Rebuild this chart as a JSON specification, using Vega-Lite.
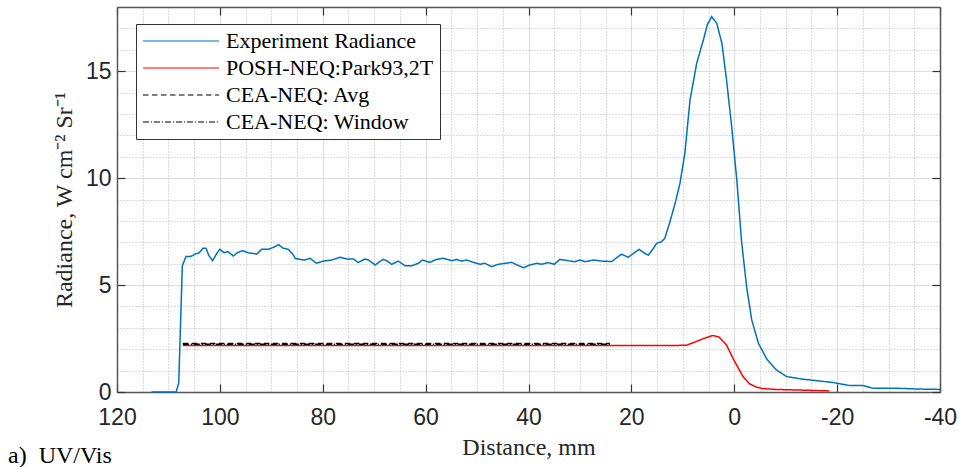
{
  "$schema": "https://vega.github.io/schema/vega-lite/v6.json",
  "width": 823,
  "height": 385,
  "autosize": {"type": "none"},
  "padding": {"left": 117, "top": 7, "right": 22, "bottom": 75},
  "background": "white",
  "title": {
    "text": "a)\u00a0 UV/Vis",
    "orient": "bottom",
    "anchor": "start",
    "frame": "group",
    "font": "Liberation Serif",
    "fontSize": 24,
    "fontWeight": "normal",
    "color": "#000000",
    "dx": -109,
    "offset": -15
  },
  "config": {
    "view": {"stroke": null},
    "legend": {
      "orient": "none",
      "legendX": 19,
      "legendY": 17,
      "symbolType": "stroke",
      "symbolSize": 5776,
      "symbolStrokeWidth": 1.2,
      "clipHeight": 22,
      "rowPadding": 5,
      "padding": 6,
      "labelOffset": 6,
      "labelFont": "Liberation Serif",
      "labelFontSize": 22,
      "labelColor": "#000000",
      "labelLimit": 400,
      "fillColor": "#ffffff",
      "strokeColor": "#333333",
      "strokeWidth": 1
    }
  },
  "data": {
    "values": [
      {"d": 113.3, "r": 0, "s": "Experiment Radiance"},
      {"d": 108.5, "r": 0, "s": "Experiment Radiance"},
      {"d": 108.0, "r": 0.42, "s": "Experiment Radiance"},
      {"d": 107.3, "r": 5.9, "s": "Experiment Radiance"},
      {"d": 106.6, "r": 6.33, "s": "Experiment Radiance"},
      {"d": 105.7, "r": 6.33, "s": "Experiment Radiance"},
      {"d": 104.8, "r": 6.45, "s": "Experiment Radiance"},
      {"d": 104.0, "r": 6.51, "s": "Experiment Radiance"},
      {"d": 103.3, "r": 6.72, "s": "Experiment Radiance"},
      {"d": 102.7, "r": 6.72, "s": "Experiment Radiance"},
      {"d": 102.1, "r": 6.36, "s": "Experiment Radiance"},
      {"d": 101.4, "r": 6.14, "s": "Experiment Radiance"},
      {"d": 100.6, "r": 6.48, "s": "Experiment Radiance"},
      {"d": 100.0, "r": 6.67, "s": "Experiment Radiance"},
      {"d": 99.2, "r": 6.51, "s": "Experiment Radiance"},
      {"d": 98.4, "r": 6.56, "s": "Experiment Radiance"},
      {"d": 97.4, "r": 6.36, "s": "Experiment Radiance"},
      {"d": 96.6, "r": 6.51, "s": "Experiment Radiance"},
      {"d": 95.6, "r": 6.61, "s": "Experiment Radiance"},
      {"d": 94.5, "r": 6.51, "s": "Experiment Radiance"},
      {"d": 92.8, "r": 6.45, "s": "Experiment Radiance"},
      {"d": 91.9, "r": 6.67, "s": "Experiment Radiance"},
      {"d": 90.6, "r": 6.67, "s": "Experiment Radiance"},
      {"d": 89.6, "r": 6.76, "s": "Experiment Radiance"},
      {"d": 88.6, "r": 6.89, "s": "Experiment Radiance"},
      {"d": 87.7, "r": 6.72, "s": "Experiment Radiance"},
      {"d": 86.7, "r": 6.67, "s": "Experiment Radiance"},
      {"d": 85.7, "r": 6.4, "s": "Experiment Radiance"},
      {"d": 85.4, "r": 6.25, "s": "Experiment Radiance"},
      {"d": 84.4, "r": 6.2, "s": "Experiment Radiance"},
      {"d": 83.5, "r": 6.17, "s": "Experiment Radiance"},
      {"d": 82.5, "r": 6.25, "s": "Experiment Radiance"},
      {"d": 81.2, "r": 6.02, "s": "Experiment Radiance"},
      {"d": 79.9, "r": 6.12, "s": "Experiment Radiance"},
      {"d": 78.3, "r": 6.17, "s": "Experiment Radiance"},
      {"d": 76.6, "r": 6.3, "s": "Experiment Radiance"},
      {"d": 75.3, "r": 6.22, "s": "Experiment Radiance"},
      {"d": 74.0, "r": 6.22, "s": "Experiment Radiance"},
      {"d": 73.1, "r": 6.05, "s": "Experiment Radiance"},
      {"d": 71.8, "r": 6.22, "s": "Experiment Radiance"},
      {"d": 71.1, "r": 6.17, "s": "Experiment Radiance"},
      {"d": 69.8, "r": 5.94, "s": "Experiment Radiance"},
      {"d": 68.3, "r": 6.2, "s": "Experiment Radiance"},
      {"d": 67.6, "r": 6.14, "s": "Experiment Radiance"},
      {"d": 66.6, "r": 5.97, "s": "Experiment Radiance"},
      {"d": 65.3, "r": 6.12, "s": "Experiment Radiance"},
      {"d": 64.0, "r": 5.9, "s": "Experiment Radiance"},
      {"d": 62.7, "r": 5.9, "s": "Experiment Radiance"},
      {"d": 61.4, "r": 6.02, "s": "Experiment Radiance"},
      {"d": 60.6, "r": 6.17, "s": "Experiment Radiance"},
      {"d": 59.2, "r": 6.06, "s": "Experiment Radiance"},
      {"d": 57.9, "r": 6.2, "s": "Experiment Radiance"},
      {"d": 56.6, "r": 6.25, "s": "Experiment Radiance"},
      {"d": 54.9, "r": 6.14, "s": "Experiment Radiance"},
      {"d": 54.0, "r": 6.2, "s": "Experiment Radiance"},
      {"d": 53.0, "r": 6.12, "s": "Experiment Radiance"},
      {"d": 52.0, "r": 6.17, "s": "Experiment Radiance"},
      {"d": 50.7, "r": 6.06, "s": "Experiment Radiance"},
      {"d": 49.4, "r": 5.97, "s": "Experiment Radiance"},
      {"d": 48.5, "r": 6.02, "s": "Experiment Radiance"},
      {"d": 47.2, "r": 5.86, "s": "Experiment Radiance"},
      {"d": 45.9, "r": 5.97, "s": "Experiment Radiance"},
      {"d": 43.3, "r": 6.06, "s": "Experiment Radiance"},
      {"d": 41.0, "r": 5.81, "s": "Experiment Radiance"},
      {"d": 39.7, "r": 5.94, "s": "Experiment Radiance"},
      {"d": 38.4, "r": 6.02, "s": "Experiment Radiance"},
      {"d": 37.4, "r": 5.97, "s": "Experiment Radiance"},
      {"d": 36.1, "r": 6.05, "s": "Experiment Radiance"},
      {"d": 35.0, "r": 5.97, "s": "Experiment Radiance"},
      {"d": 33.9, "r": 6.2, "s": "Experiment Radiance"},
      {"d": 32.3, "r": 6.14, "s": "Experiment Radiance"},
      {"d": 31.0, "r": 6.09, "s": "Experiment Radiance"},
      {"d": 30.0, "r": 6.17, "s": "Experiment Radiance"},
      {"d": 29.0, "r": 6.09, "s": "Experiment Radiance"},
      {"d": 27.4, "r": 6.17, "s": "Experiment Radiance"},
      {"d": 25.8, "r": 6.12, "s": "Experiment Radiance"},
      {"d": 23.8, "r": 6.1, "s": "Experiment Radiance"},
      {"d": 22.2, "r": 6.4, "s": "Experiment Radiance"},
      {"d": 21.9, "r": 6.44, "s": "Experiment Radiance"},
      {"d": 20.6, "r": 6.3, "s": "Experiment Radiance"},
      {"d": 19.6, "r": 6.48, "s": "Experiment Radiance"},
      {"d": 18.5, "r": 6.67, "s": "Experiment Radiance"},
      {"d": 17.4, "r": 6.48, "s": "Experiment Radiance"},
      {"d": 16.7, "r": 6.4, "s": "Experiment Radiance"},
      {"d": 15.7, "r": 6.72, "s": "Experiment Radiance"},
      {"d": 15.1, "r": 6.95, "s": "Experiment Radiance"},
      {"d": 14.1, "r": 7.03, "s": "Experiment Radiance"},
      {"d": 13.5, "r": 7.19, "s": "Experiment Radiance"},
      {"d": 12.5, "r": 7.96, "s": "Experiment Radiance"},
      {"d": 11.5, "r": 8.82, "s": "Experiment Radiance"},
      {"d": 10.55, "r": 9.76, "s": "Experiment Radiance"},
      {"d": 9.6, "r": 11.16, "s": "Experiment Radiance"},
      {"d": 8.6, "r": 13.65, "s": "Experiment Radiance"},
      {"d": 7.3, "r": 15.37, "s": "Experiment Radiance"},
      {"d": 6.0, "r": 16.46, "s": "Experiment Radiance"},
      {"d": 5.25, "r": 17.16, "s": "Experiment Radiance"},
      {"d": 4.4, "r": 17.55, "s": "Experiment Radiance"},
      {"d": 3.4, "r": 17.24, "s": "Experiment Radiance"},
      {"d": 2.4, "r": 16.3, "s": "Experiment Radiance"},
      {"d": 1.5, "r": 14.59, "s": "Experiment Radiance"},
      {"d": 0.5, "r": 12.4, "s": "Experiment Radiance"},
      {"d": -0.5, "r": 9.91, "s": "Experiment Radiance"},
      {"d": -1.4, "r": 7.1, "s": "Experiment Radiance"},
      {"d": -2.4, "r": 4.92, "s": "Experiment Radiance"},
      {"d": -3.4, "r": 3.37, "s": "Experiment Radiance"},
      {"d": -4.7, "r": 2.28, "s": "Experiment Radiance"},
      {"d": -6.3, "r": 1.55, "s": "Experiment Radiance"},
      {"d": -8.2, "r": 1.03, "s": "Experiment Radiance"},
      {"d": -10.2, "r": 0.72, "s": "Experiment Radiance"},
      {"d": -13.3, "r": 0.6, "s": "Experiment Radiance"},
      {"d": -16.0, "r": 0.53, "s": "Experiment Radiance"},
      {"d": -19.3, "r": 0.44, "s": "Experiment Radiance"},
      {"d": -19.9, "r": 0.41, "s": "Experiment Radiance"},
      {"d": -22.5, "r": 0.3, "s": "Experiment Radiance"},
      {"d": -25.1, "r": 0.3, "s": "Experiment Radiance"},
      {"d": -27.0, "r": 0.17, "s": "Experiment Radiance"},
      {"d": -32.2, "r": 0.17, "s": "Experiment Radiance"},
      {"d": -35.5, "r": 0.14, "s": "Experiment Radiance"},
      {"d": -40.0, "r": 0.12, "s": "Experiment Radiance"},
      {"d": 107.2, "r": 2.17, "s": "POSH-NEQ:Park93,2T"},
      {"d": 12.0, "r": 2.17, "s": "POSH-NEQ:Park93,2T"},
      {"d": 9.25, "r": 2.19, "s": "POSH-NEQ:Park93,2T"},
      {"d": 7.5, "r": 2.35, "s": "POSH-NEQ:Park93,2T"},
      {"d": 6.0, "r": 2.5, "s": "POSH-NEQ:Park93,2T"},
      {"d": 4.2, "r": 2.64, "s": "POSH-NEQ:Park93,2T"},
      {"d": 3.0, "r": 2.58, "s": "POSH-NEQ:Park93,2T"},
      {"d": 1.5, "r": 2.2, "s": "POSH-NEQ:Park93,2T"},
      {"d": 0.2, "r": 1.55, "s": "POSH-NEQ:Park93,2T"},
      {"d": -1.7, "r": 0.72, "s": "POSH-NEQ:Park93,2T"},
      {"d": -3.0, "r": 0.38, "s": "POSH-NEQ:Park93,2T"},
      {"d": -4.4, "r": 0.22, "s": "POSH-NEQ:Park93,2T"},
      {"d": -5.5, "r": 0.16, "s": "POSH-NEQ:Park93,2T"},
      {"d": -8.0, "r": 0.12, "s": "POSH-NEQ:Park93,2T"},
      {"d": -12.8, "r": 0.09, "s": "POSH-NEQ:Park93,2T"},
      {"d": -18.5, "r": 0.05, "s": "POSH-NEQ:Park93,2T"},
      {"d": 107.2, "r": 2.27, "s": "CEA-NEQ: Avg"},
      {"d": 24.2, "r": 2.27, "s": "CEA-NEQ: Avg"},
      {"d": 107.2, "r": 2.23, "s": "CEA-NEQ: Window"},
      {"d": 24.2, "r": 2.23, "s": "CEA-NEQ: Window"}
    ]
  },
  "layer": [
    {
      "mark": {"type": "line", "opacity": 0},
      "encoding": {
        "x": {
          "field": "d", "type": "quantitative",
          "scale": {"domain": [-40, 120], "reverse": true, "nice": false, "zero": false},
          "axis": {
            "orient": "bottom", "title": null,
            "values": [115, 110, 105, 95, 90, 85, 75, 70, 65, 55, 50, 45, 35, 30, 25, 15, 10, 5, -5, -10, -15, -25, -30, -35],
            "grid": true, "gridColor": "#b8b8b8", "gridDash": [1, 2], "gridWidth": 1,
            "ticks": false, "labels": false, "domain": false
          }
        },
        "y": {
          "field": "r", "type": "quantitative",
          "scale": {"domain": [0, 18], "nice": false, "zero": true},
          "axis": {
            "orient": "left", "title": null,
            "values": [1, 2, 3, 4, 6, 7, 8, 9, 11, 12, 13, 14, 16, 17],
            "grid": true, "gridColor": "#b8b8b8", "gridDash": [1, 2], "gridWidth": 1,
            "ticks": false, "labels": false, "domain": false
          }
        }
      }
    },
    {
      "mark": {"type": "line", "opacity": 0},
      "encoding": {
        "x": {
          "field": "d", "type": "quantitative",
          "axis": {
            "orient": "top", "title": null,
            "values": [120, 100, 80, 60, 40, 20, 0, -20, -40],
            "grid": false, "labels": false,
            "ticks": true, "tickSize": -8, "tickColor": "#333333", "tickWidth": 1.2,
            "domain": true, "domainColor": "#555555", "domainWidth": 1.5
          }
        },
        "y": {
          "field": "r", "type": "quantitative",
          "axis": {
            "orient": "right", "title": null,
            "values": [0, 5, 10, 15],
            "grid": false, "labels": false,
            "ticks": true, "tickSize": -8, "tickColor": "#333333", "tickWidth": 1.2,
            "domain": true, "domainColor": "#555555", "domainWidth": 1.5
          }
        }
      }
    },
    {
      "mark": {"type": "line", "strokeWidth": 1.5},
      "encoding": {
        "x": {
          "field": "d", "type": "quantitative",
          "axis": {
            "orient": "bottom",
            "title": "Distance, mm",
            "titleFont": "Liberation Serif", "titleFontSize": 24, "titleFontWeight": "normal", "titleColor": "#262626",
            "titlePadding": 6,
            "values": [120, 100, 80, 60, 40, 20, 0, -20, -40],
            "labelExpr": "'' + datum.value",
            "grid": true, "gridColor": "#dcdcdc", "gridWidth": 1,
            "ticks": true, "tickSize": -8, "tickColor": "#333333", "tickWidth": 1.2,
            "domain": true, "domainColor": "#555555", "domainWidth": 1.5,
            "labelFont": "Liberation Sans", "labelFontSize": 23, "labelColor": "#262626",
            "labelPadding": 22, "labelFlush": false, "labelOverlap": false
          }
        },
        "y": {
          "field": "r", "type": "quantitative",
          "axis": {
            "orient": "left",
            "title": "Radiance, W cm⁻² Sr⁻¹",
            "titleFont": "Liberation Serif", "titleFontSize": 24, "titleFontWeight": "normal", "titleColor": "#262626",
            "titlePadding": 9,
            "values": [0, 5, 10, 15],
            "grid": true, "gridColor": "#dcdcdc", "gridWidth": 1,
            "ticks": true, "tickSize": -8, "tickColor": "#333333", "tickWidth": 1.2,
            "domain": true, "domainColor": "#555555", "domainWidth": 1.5,
            "labelFont": "Liberation Sans", "labelFontSize": 23, "labelColor": "#262626",
            "labelPadding": 14, "labelFlush": false, "labelOverlap": false
          }
        },
        "color": {
          "field": "s", "type": "nominal",
          "scale": {
            "domain": ["Experiment Radiance", "POSH-NEQ:Park93,2T", "CEA-NEQ: Avg", "CEA-NEQ: Window"],
            "range": ["#0072BD", "#FF0000", "#000000", "#000000"]
          },
          "legend": {"title": null}
        },
        "strokeDash": {
          "field": "s", "type": "nominal",
          "scale": {
            "domain": ["Experiment Radiance", "POSH-NEQ:Park93,2T", "CEA-NEQ: Avg", "CEA-NEQ: Window"],
            "range": [[1, 0], [1, 0], [5.5, 3.5], [6, 2, 1, 2]]
          },
          "legend": {"title": null}
        }
      }
    }
  ],
  "resolve": {"axis": {"x": "independent", "y": "independent"}}
}
